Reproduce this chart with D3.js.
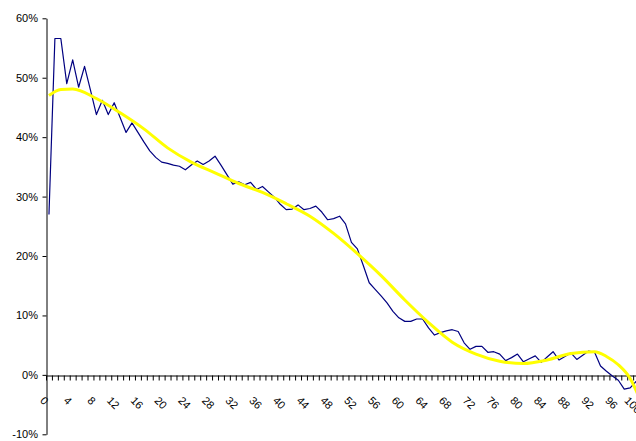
<!DOCTYPE html>
<html>
<head>
<meta charset="utf-8">
<script src="https://cdn.jsdelivr.net/npm/d3@7"></script>
<style>
  html, body { margin: 0; padding: 0; background: #fff; }
  svg { display: block; }
  text { font-family: "Liberation Sans", Arial, sans-serif; font-size: 11px; fill: #000; }
</style>
</head>
<body>
<svg id="chart" width="636" height="441"></svg>
<script>
// Category positions 0..100
const categories = d3.range(0, 101);

// Observed share per category (%)
const shareValues = [
  27.0, 56.6, 56.6, 49.0, 53.0, 48.4, 51.9, 47.9, 43.8, 46.2,
  43.8, 45.8, 43.3, 40.8, 42.4, 40.8, 39.2, 37.7, 36.6, 35.8,
  35.6, 35.3, 35.1, 34.5, 35.3, 36.0, 35.4, 36.0, 36.8, 35.3,
  33.7, 32.1, 32.5, 32.0, 32.4, 31.2, 31.7, 30.8, 29.9, 28.7,
  27.8, 27.9, 28.6, 27.8, 28.0, 28.4, 27.4, 26.1, 26.3, 26.7,
  25.4, 22.3, 21.2, 18.4, 15.5, 14.4, 13.3, 12.1, 10.7, 9.6,
  9.0, 9.0, 9.4, 9.4, 7.9, 6.7, 7.1, 7.4, 7.6, 7.3,
  5.4, 4.3, 4.8, 4.8, 3.8, 3.9, 3.5, 2.4, 2.9, 3.5,
  2.2, 2.7, 3.2, 2.1, 3.0, 3.9, 2.5, 3.1, 3.7, 2.6,
  3.3, 4.0, 3.8, 1.5, 0.6, -0.2, -0.9, -2.4, -2.2, -1.1,
  -0.5
];

// Trend curve, sampled at these categories
const trendCategories = [0, 2, 4, 8, 12, 16, 20, 24, 28, 32, 36, 40, 44, 48, 52, 56, 60, 64, 68, 72, 76, 80, 84, 88, 92, 94, 96, 98, 100];
const trendValues     = [47.0, 48.0, 48.1, 46.5, 44.1, 41.4, 38.2, 35.8, 34.0, 32.2, 30.7, 28.8, 26.7, 23.8, 20.4, 16.7, 12.6, 8.8, 5.5, 3.5, 2.3, 1.9, 2.5, 3.6, 3.9, 3.1, 1.7, -0.6, -5.0];

// Axis labels
const xTickLabels = ["0","4","8","12","16","20","24","28","32","36","40","44","48","52","56","60","64","68","72","76","80","84","88","92","96","100"];
const yTickValues = [-10, 0, 10, 20, 30, 40, 50, 60];

const svg = d3.select("#chart");

const x = d3.scaleLinear().domain([-0.5, 100.5]).range([46, 645]);
const y = d3.scaleLinear().domain([-10, 60]).range([434.3, 18.3]);

// Y axis
const yAxis = svg.append("g")
  .attr("transform", "translate(46.5,0)")
  .call(d3.axisLeft(y)
    .tickValues(yTickValues)
    .tickSize(4)
    .tickSizeOuter(0)
    .tickPadding(4.5)
    .tickFormat(d => d + "%"));
yAxis.selectAll("path, line").attr("stroke", "#000");
yAxis.selectAll("text").style("font-size", "11px").style("font-family", "'Liberation Sans', Arial, sans-serif");

// X axis with tick marks between categories
const xAxis = svg.append("g")
  .attr("transform", `translate(0,${Math.round(y(0)) + 0.5})`)
  .call(d3.axisBottom(x)
    .tickValues(d3.range(-0.5, 101, 1))
    .tickSize(5)
    .tickSizeOuter(0)
    .tickFormat(""));
xAxis.selectAll("path, line").attr("stroke", "#000");

// Rotated category labels, every fourth category
const labelTop = 396;
const labelG = svg.append("g");
xTickLabels.forEach(lbl => {
  const cat = +lbl;
  const t = labelG.append("text")
    .attr("text-anchor", "middle")
    .attr("dy", "0.358em")
    .text(lbl);
  const w = t.node().getComputedTextLength() - 1;
  const side = (w + 7.9) * Math.SQRT1_2;
  const cx = x(cat) - side / 2;
  const cy = labelTop + side / 2;
  t.attr("transform", `translate(${cx},${cy}) rotate(45)`);
});

// Observed series
const line = d3.line()
  .x((d, i) => x(categories[i]))
  .y(d => y(d));

svg.append("path")
  .datum(shareValues)
  .attr("fill", "none")
  .attr("stroke", "#000080")
  .attr("stroke-width", 1.2)
  .attr("stroke-linejoin", "round")
  .attr("d", line);

// Trend curve
const trendLine = d3.line()
  .x((d, i) => x(trendCategories[i]))
  .y(d => y(d))
  .curve(d3.curveMonotoneX);

svg.append("path")
  .datum(trendValues)
  .attr("fill", "none")
  .attr("stroke", "#FFFF00")
  .attr("stroke-width", 3)
  .attr("stroke-linejoin", "round")
  .attr("d", trendLine);
</script>
</body>
</html>
